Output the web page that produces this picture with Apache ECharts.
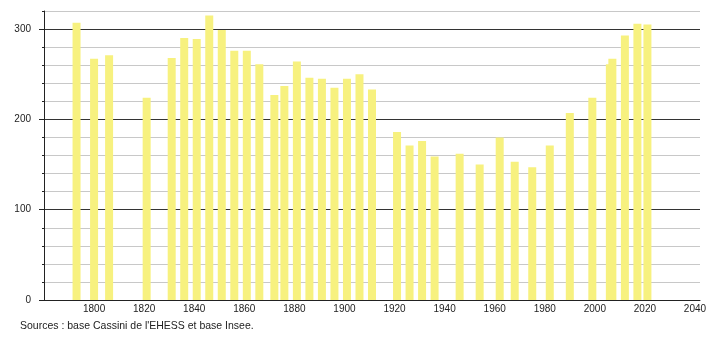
<!DOCTYPE html>
<html>
<head>
<meta charset="utf-8">
<script src="https://cdn.jsdelivr.net/npm/echarts@6/dist/echarts.min.js"></script>
<style>html,body{margin:0;padding:0;background:#fff}#c{width:710px;height:340px}</style>
</head>
<body>
<div id="c"></div>
<script>
const years = [1793,1800,1806,1821,1831,1836,1841,1846,1851,1856,1861,1866,1872,1876,1881,1886,1891,1896,1901,1906,1911,1921,1926,1931,1936,1946,1954,1962,1968,1975,1982,1990,1999,2006,2007,2012,2017,2021];
const population = [307,267,271,224,268,290,289,315,299,276,276,261,227,237,264,246,245,235,245,250,233,186,171,176,159,162,150,180,153,147,171,207,224,261,267,293,306,305];
const yTickLabels = ['0','20','40','60','80','100','120','140','160','180','200','220','240','260','280','300','320'];
const sourceText = "Sources : base Cassini de l'EHESS et base Insee.";

const chart = echarts.init(document.getElementById('c'), null, {renderer: 'canvas'});
const font = 'Liberation Sans, Arial, sans-serif';
chart.setOption({
  animation: false,
  backgroundColor: '#fff',
  grid: {left: 44, right: 10, top: 11, bottom: 40, containLabel: false},
  xAxis: {
    type: 'value', min: 1780, max: 2042, interval: 20,
    axisLine: {show: true, lineStyle: {color: '#222', width: 1}},
    axisTick: {show: false},
    splitLine: {show: false},
    axisLabel: {
      color: '#222', fontFamily: font, fontSize: 10, margin: 4,
      formatter: v => (v % 20 === 0 && v !== 1780) ? String(v) : ''
    }
  },
  yAxis: [
    {
      type: 'value', min: 0, max: 320, interval: 20,
      axisLine: {show: true, lineStyle: {color: '#222', width: 1}},
      axisTick: {show: true, length: 2, lineStyle: {color: '#222'}},
      axisLabel: {show: false},
      splitLine: {show: true, lineStyle: {color: ['#333', '#c8c8c8', '#c8c8c8', '#c8c8c8', '#c8c8c8'], width: 1}}
    },
    {
      type: 'category', data: yTickLabels, boundaryGap: false, position: 'left',
      axisLine: {show: false},
      axisTick: {show: true, length: 5, interval: (i) => i % 5 === 0, lineStyle: {color: '#222'}},
      axisLabel: {show: true, interval: (i) => i % 5 === 0, color: '#222', fontFamily: font, fontSize: 10, margin: 13},
      splitLine: {show: false}
    }
  ],
  series: [{
    type: 'bar',
    xAxisIndex: 0, yAxisIndex: 0,
    barWidth: 8,
    itemStyle: {color: '#f7f17f'},
    data: years.map((y, i) => [y, population[i]])
  }],
  graphic: [{
    type: 'text', left: 20, top: 321,
    style: {text: sourceText, fill: '#222', font: '10.5px ' + font}
  }]
});
</script>
</body>
</html>
